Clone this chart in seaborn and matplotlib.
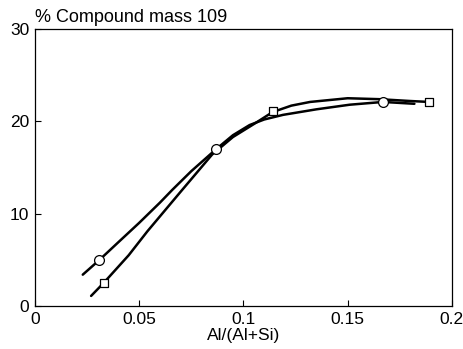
import matplotlib.pyplot as plt
import numpy as np
import pandas as pd
import seaborn as sns

# measured points
circle_x = [0.031, 0.087, 0.167]
circle_y = [5.0, 17.0, 22.1]
square_x = [0.033, 0.114, 0.189]
square_y = [2.5, 21.1, 22.1]

# hand-drawn fit curves
circle_fit_x = [0.023, 0.031, 0.040, 0.050, 0.060, 0.066, 0.075, 0.087,
                0.095, 0.103, 0.110, 0.119, 0.135, 0.151, 0.167, 0.182]
circle_fit_y = [3.4, 5.0, 6.9, 9.0, 11.2, 12.6, 14.6, 17.0,
                18.5, 19.6, 20.2, 20.7, 21.3, 21.8, 22.1, 21.9]
square_fit_x = [0.027, 0.033, 0.045, 0.054, 0.070, 0.085, 0.095, 0.105,
                0.114, 0.123, 0.132, 0.150, 0.165, 0.180, 0.189]
square_fit_y = [1.1, 2.5, 5.5, 8.1, 12.4, 16.4, 18.3, 19.7,
                21.0, 21.7, 22.1, 22.5, 22.4, 22.2, 22.1]

sns.set_style("ticks", {"axes.edgecolor": "black", "text.color": "black",
                        "xtick.color": "black", "ytick.color": "black",
                        "axes.labelcolor": "black"})
plt.rcParams["font.family"] = ["Liberation Sans", "DejaVu Sans"]

fig, ax = plt.subplots(figsize=(4.64, 3.49), dpi=100)
fig.subplots_adjust(left=0.075, right=0.974, top=0.917, bottom=0.123)

sns.lineplot(x=circle_fit_x, y=circle_fit_y, sort=False, color="black",
             linewidth=1.8, ax=ax)
sns.lineplot(x=square_fit_x, y=square_fit_y, sort=False, color="black",
             linewidth=1.8, ax=ax)
sns.scatterplot(x=circle_x, y=circle_y, marker="o", s=50, facecolor="white",
                edgecolor="black", linewidth=0.9, zorder=3, ax=ax)
sns.scatterplot(x=square_x, y=square_y, marker="s", s=40, facecolor="white",
                edgecolor="black", linewidth=0.9, zorder=3, ax=ax)

ax.set_xlim(0, 0.2)
ax.set_ylim(0, 30)
ax.set_xticks([0, 0.05, 0.1, 0.15, 0.2])
ax.set_xticklabels(["0", "0.05", "0.1", "0.15", "0.2"])
ax.set_yticks([0, 10, 20, 30])
ax.tick_params(direction="in", labelsize=12.5, length=4, width=0.8, pad=4)
for side in ["top", "right", "left", "bottom"]:
    ax.spines[side].set_visible(True)
    ax.spines[side].set_linewidth(0.9)
ax.set_xlabel("Al/(Al+Si)", fontsize=12.5, labelpad=1)
ax.text(0.0, 1.01, "% Compound mass 109", transform=ax.transAxes,
        fontsize=13, ha="left", va="bottom")

fig.savefig("out.png", dpi=100)
plt.close(fig)
